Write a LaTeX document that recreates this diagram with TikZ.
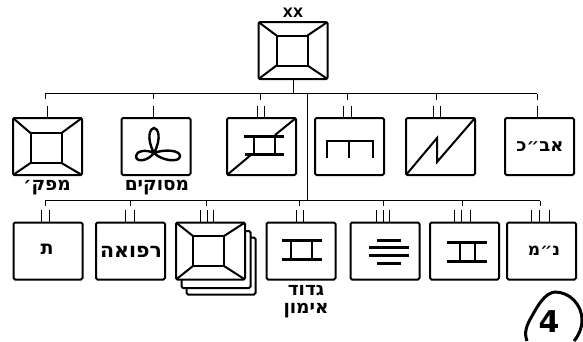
\documentclass[tikz,border=0pt]{standalone}
\usepackage{fontspec}
\newfontfamily\hebfont[Script=Hebrew]{DejaVu Sans}
\TeXXeTstate=1
\tikzset{
  unit/.style={draw,line width=2pt,rounded corners=1.5pt,minimum width=69pt,minimum height=57pt,inner sep=0pt,outer sep=0pt},
  core/.style={draw,line width=2pt,minimum width=31pt,minimum height=30pt,inner sep=0pt,outer sep=0pt},
  sign/.style={font=\hebfont\bfseries\fontsize{#1}{18}\selectfont,inner sep=0pt,align=center},
  sign/.default=18.5,
  link/.style={line width=1pt},
  glyph/.style={line width=2pt},
  heavy/.style={line width=3pt}
}
\begin{document}
\begin{tikzpicture}[x=1pt,y=-1pt]
  \useasboundingbox (0,0) rectangle (583,341);
  % back sheets of the stack
  \draw
    (221,266) node[unit,fill=white] (9b){}
    (216,259.5) node[unit,fill=white] (9a){};
  \draw
    (293,50.5) node[unit] (0){}
    (47.5,146.5) node[unit] (1){}
    (156,146.5) node[unit] (2){}
    (261.5,146.5) node[unit] (3){}
    (349.5,146.5) node[unit] (4){}
    (440.5,146.5) node[unit] (5){}
    (539.5,146.5) node[unit] (6){}
    (48,251) node[unit] (7){}
    (130.5,251) node[unit] (8){}
    (210.5,251) node[unit,fill=white] (9){}
    (301,251) node[unit] (10){}
    (385,251) node[unit] (11){}
    (464.5,251) node[unit] (12){}
    (541.5,251) node[unit] (13){};
  \draw
    (292,50.5) node[core] (0i){}
    (46,148) node[core] (1i){}
    (208.5,251) node[core] (9i){};
  \draw
    (293,13) node[sign=13] (xx){XX}
    (47,188) node[sign] (1t){\beginR מפק׳\endR}
    (157,188) node[sign] (2t){\beginR מסוקים\endR}
    (540,147) node[sign=18] (6t){\beginR אב״כ\endR}
    (47,249) node[sign=19] (7t){\beginR ת\endR}
    (131,252) node[sign=20.5] (8t){\beginR רפואה\endR}
    (544,251) node[sign=17] (13t){\beginR נ״מ\endR}
    (306,302) node[sign] (10t){\beginR גדוד\endR\\\beginR אימון\endR}
    (549,322) node[font=\hebfont\bfseries\fontsize{30}{32}\selectfont,inner sep=0pt] (page){4};
  % bus lines
  \draw
    (293,93.5) coordinate (b0)
    (307,93.5) coordinate (b1)
    (307,200.5) coordinate (b2)
    (45,93.5) coordinate (t1)
    (153,93.5) coordinate (t2)
    (260,93.5) coordinate (t3)
    (347,93.5) coordinate (t4)
    (436,93.5) coordinate (t5)
    (537,93.5) coordinate (t6)
    (45,200.5) coordinate (t7)
    (130,200.5) coordinate (t8)
    (206,200.5) coordinate (t9)
    (299,200.5) coordinate (t10)
    (383,200.5) coordinate (t11)
    (462,200.5) coordinate (t12)
    (540,200.5) coordinate (t13);
  \begin{scope}[link]
    \draw (0.south) to (b0);
    \draw (t1) to (t6);
    \draw (b1) to (b2);
    \draw (t7) to (t13);
    \draw (t1) to ++(0,5);
    \draw (t2) to ++(0,5);
    \draw (t3) to ++(0,6);
    \draw (t4) to ++(0,6);
    \draw (t5) to ++(0,6);
    \draw (t6) to ++(0,6);
    \draw (t7) to ++(0,5);
    \draw (t8) to ++(0,5);
    \draw (t9) to ++(0,5);
    \draw (t10) to ++(0,5);
    \draw (t11) to ++(0,5);
    \draw (t12) to ++(0,5);
    \draw (t13) to ++(0,5);
    % stubs above the boxes
    \draw (47,106) to (47,106 |- 1.north);
    \draw (153,106) to (153,106 |- 2.north);
    \draw (257,106) to (257,106 |- 3.north);
    \draw (264,106) to (264,106 |- 3.north);
    \draw (343,106) to (343,106 |- 4.north);
    \draw (351,106) to (351,106 |- 4.north);
    \draw (433,106) to (433,106 |- 5.north);
    \draw (440,106) to (440,106 |- 5.north);
    \draw (537,106) to (537,106 |- 6.north);
    \draw (41,210) to (41,210 |- 7.north);
    \draw (49,210) to (49,210 |- 7.north);
    \draw (125,210) to (125,210 |- 8.north);
    \draw (134,210) to (134,210 |- 8.north);
    \draw (200,210) to (200,210 |- 9.north);
    \draw (207,210) to (207,210 |- 9.north);
    \draw (213,210) to (213,210 |- 9.north);
    \draw (296,210) to (296,210 |- 10.north);
    \draw (303,210) to (303,210 |- 10.north);
    \draw (376,210) to (376,210 |- 11.north);
    \draw (383,210) to (383,210 |- 11.north);
    \draw (389,210) to (389,210 |- 11.north);
    \draw (454,210) to (454,210 |- 12.north);
    \draw (461,210) to (461,210 |- 12.north);
    \draw (470,210) to (470,210 |- 12.north);
    \draw (531,210) to (531,210 |- 13.north);
    \draw (539,210) to (539,210 |- 13.north);
    \draw (549,210) to (549,210 |- 13.north);
  \end{scope}
  % corners of the framed boxes
  \begin{scope}[glyph]
    \draw (0.north west) to (0i.north west);
    \draw (0.north east) to (0i.north east);
    \draw (0.south west) to (0i.south west);
    \draw (0.south east) to (0i.south east);
    \draw (1.north west) to (1i.north west);
    \draw (1.north east) to (1i.north east);
    \draw (1.south west) to (1i.south west);
    \draw (1.south east) to (1i.south east);
    \draw (9.north west) to (9i.north west);
    \draw (9.north east) to (9i.north east);
    \draw (9.south west) to (9i.south west);
    \draw (9.south east) to (9i.south east);
    % helicopter loop
    \draw[line width=2.4pt] (154,153) .. controls (146,138) and (150,128) .. (154,128)
      .. controls (158,128) and (162,138) .. (154,153)
      .. controls (146,149) and (136,151) .. (136,156)
      .. controls (136,163) and (148,161) .. (154,153)
      .. controls (162,161) and (180,163) .. (180,156)
      .. controls (180,150) and (164,149) .. (154,153);
    % third box
    \draw (3.south west) to (252,154);
    \draw (275,135) to (3.north east);
    \draw[heavy] (244,136) to (284,136);
    \draw[heavy] (245,154) to (284,154);
    \draw (254,136) to (254,154);
    \draw (275,136) to (275,154);
    % comb
    \draw (327,158) to (327,141) to (373,141) to (373,158);
    \draw (349,141) to (349,158);
    % bolt
    \draw (5.south west) to (437,138) to (437,162) to (5.north east);
    % rails in the lower row
    \draw[heavy] (282,240) to (322,240);
    \draw[heavy] (282,259) to (322,259);
    \draw (291,240) to (291,259);
    \draw (312,240) to (312,259);
    \draw[heavy] (447,242) to (487,242);
    \draw[heavy] (447,261) to (487,261);
    \draw (460,242) to (460,261);
    \draw (475,242) to (475,261);
    \draw[heavy] (377,240) to (401,240);
    \draw[heavy] (369,247) to (409,247);
    \draw[heavy] (369,255) to (409,255);
    \draw[heavy] (377,263) to (401,263);
    % ring of the page mark
    \draw[line width=3pt] (527,341) .. controls (524,333) and (526,326) .. (532,316)
      .. controls (538,305) and (545,293) .. (555,292)
      .. controls (570,292) and (582,305) .. (582,320)
      .. controls (582,328) and (579,335) .. (574,341);
  \end{scope}
\end{tikzpicture}
\end{document}
